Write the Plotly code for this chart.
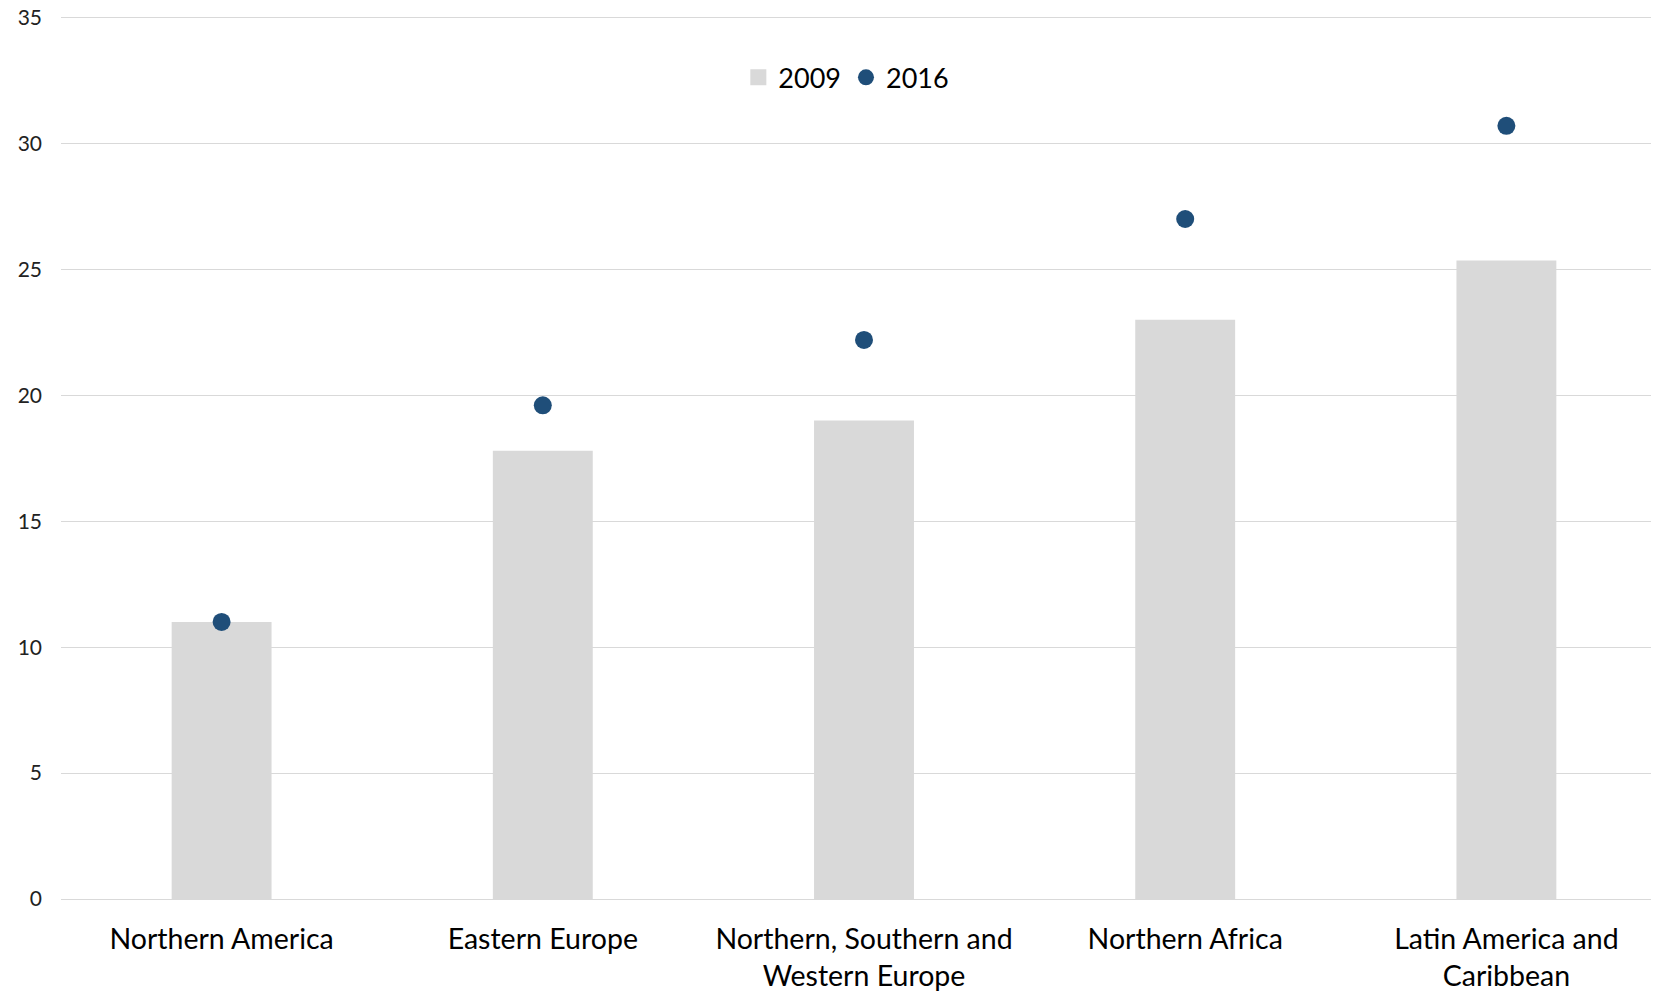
import plotly.graph_objects as go

categories = ["Northern America", "Eastern Europe", "Northern, Southern and<br>Western Europe",
              "Northern Africa", "Latin America and<br>Caribbean"]
values_2009 = [11.0, 17.8, 19.0, 23.0, 25.35]
values_2016 = [11.0, 19.6, 22.2, 27.0, 30.7]
y_ticks = [0, 5, 10, 15, 20, 25, 30, 35]

FONT = "Lato, Carlito, Calibri, sans-serif"
BAR_COLOR = "#D9D9D9"
DOT_COLOR = "#1F4E79"

fig = go.Figure()
fig.add_trace(go.Bar(x=categories, y=values_2009, name="2009", showlegend=False,
                     marker=dict(color=BAR_COLOR, line=dict(width=0))))
fig.add_trace(go.Scatter(x=categories, y=values_2016, name="2016", mode="markers",
                         showlegend=False,
                         marker=dict(color=DOT_COLOR, size=18, line=dict(width=0))))
# legend-only entries (larger symbols, like the reference)
fig.add_trace(go.Scatter(x=[None], y=[None], name="2009", mode="markers",
                         marker=dict(color=BAR_COLOR, size=16, symbol="square", line=dict(width=0))))
fig.add_trace(go.Scatter(x=[None], y=[None], name="2016", mode="markers",
                         marker=dict(color=DOT_COLOR, size=16, symbol="circle", line=dict(width=0))))

fig.update_layout(
    width=1659, height=992,
    margin=dict(l=53, r=0, t=7, b=101),
    paper_bgcolor="white", plot_bgcolor="white",
    bargap=0.689,
    font=dict(family=FONT, color="#000000"),
    showlegend=True,
    legend=dict(orientation="h", x=0.489, xanchor="center", y=0.929, yanchor="middle",
                font=dict(size=27, color="#000000"), itemsizing="trace",
                bgcolor="rgba(0,0,0,0)", traceorder="normal", itemwidth=30),
)
fig.update_xaxes(range=[-0.5, 4.5], showgrid=False, showline=False, zeroline=False,
                 tickfont=dict(size=28.5, color="#000000"), ticks="", ticklabelstandoff=20,
                 automargin=False, fixedrange=True)
fig.update_yaxes(range=[0, 35.1], tickvals=y_ticks, showgrid=True, gridcolor="#D9D9D9",
                 gridwidth=1, zeroline=True, zerolinecolor="#D9D9D9", zerolinewidth=1,
                 showline=False, ticks="", tickfont=dict(size=21, color="#222222"),
                 ticklabelstandoff=18, ticklabeloverflow="allow", automargin=False,
                 fixedrange=True)

fig.write_html("out.html")
